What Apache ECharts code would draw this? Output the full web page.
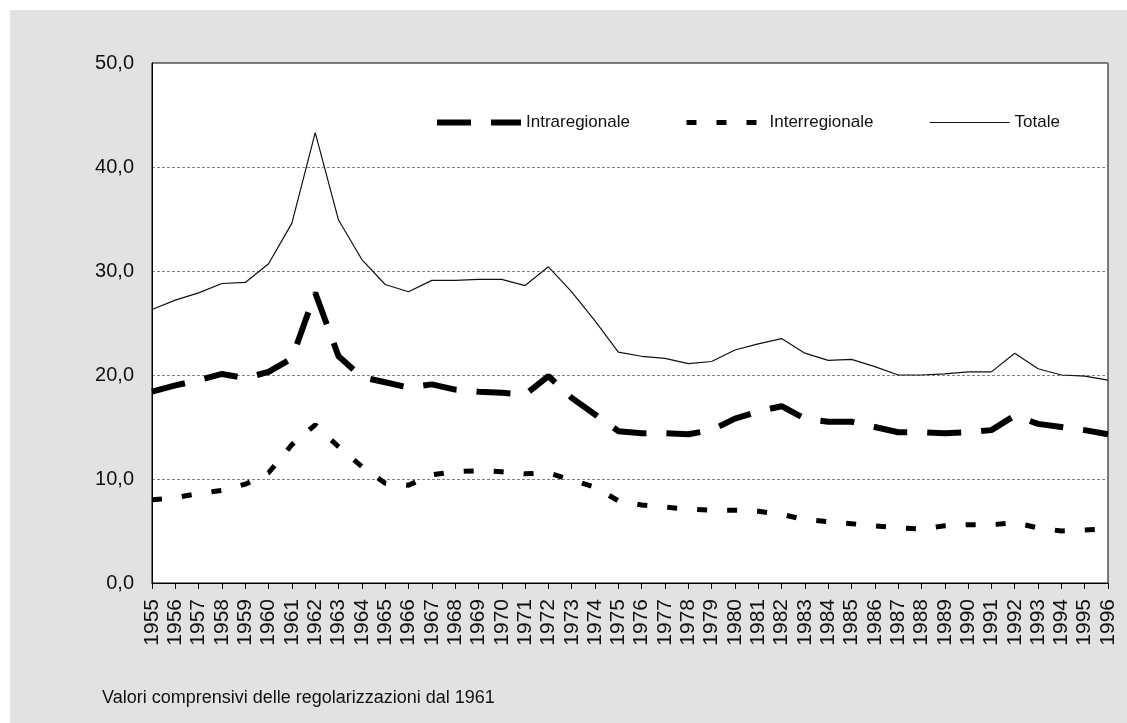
<!DOCTYPE html>
<html>
<head>
<meta charset="utf-8">
<script src="https://cdn.jsdelivr.net/npm/echarts@6/dist/echarts.min.js"></script>
<style>
html,body{margin:0;padding:0;background:#fff;}
#bg{position:absolute;left:10px;top:10px;width:1117px;height:713px;background:#e2e2e2;}
#chart{position:absolute;left:0;top:0;width:1127px;height:723px;}
</style>
</head>
<body>
<div id="bg"></div>
<div id="chart"></div>
<script>
var years = ['1955','1956','1957','1958','1959','1960','1961','1962','1963','1964','1965','1966','1967','1968','1969','1970','1971','1972','1973','1974','1975','1976','1977','1978','1979','1980','1981','1982','1983','1984','1985','1986','1987','1988','1989','1990','1991','1992','1993','1994','1995','1996'];

var intraregionale = [18.4,19.0,19.5,20.1,19.7,20.3,21.6,27.9,21.8,19.8,19.3,18.8,19.1,18.6,18.4,18.3,18.1,19.9,17.8,16.2,14.6,14.4,14.4,14.3,14.7,15.8,16.5,17.0,15.8,15.5,15.5,15.0,14.5,14.5,14.4,14.5,14.7,16.1,15.3,15.0,14.7,14.3];

var interregionale = [8.0,8.2,8.6,8.9,9.5,10.6,13.3,15.2,13.1,11.2,9.6,9.4,10.4,10.7,10.8,10.7,10.5,10.6,9.9,9.2,7.9,7.5,7.3,7.1,7.0,7.0,6.9,6.6,6.1,5.9,5.7,5.5,5.3,5.2,5.5,5.6,5.6,5.8,5.3,5.0,5.1,5.2];

var totale = [26.3,27.2,27.9,28.8,28.9,30.7,34.6,43.3,34.9,31.1,28.7,28.0,29.1,29.1,29.2,29.2,28.6,30.4,28.0,25.2,22.2,21.8,21.6,21.1,21.3,22.4,23.0,23.5,22.1,21.4,21.5,20.8,20.0,20.0,20.1,20.3,20.3,22.1,20.6,20.0,19.9,19.5];

var yTicks = [0,10,20,30,40,50];
var footnote = 'Valori comprensivi delle regolarizzazioni dal 1961';

var FONT = '"Liberation Sans", Arial, Helvetica, sans-serif';
var chart = echarts.init(document.getElementById('chart'), null, {renderer:'canvas'});

function legendFor(name, left, width, lw){
  return {
    data:[name], left:left, top:114, itemWidth:width, itemHeight:14,
    padding:0,
    textStyle:{fontFamily:FONT, fontSize:17, color:'#111'},
    itemStyle:{color:'rgba(0,0,0,0)', borderWidth:0, opacity:0},
    lineStyle:{width:lw},
    selectedMode:false
  };
}

chart.setOption({
  animation:false,
  backgroundColor:'transparent',
  title:{
    text:footnote, left:102, top:689, padding:0,
    textStyle:{fontFamily:FONT, fontSize:18, fontWeight:'normal', color:'#111'}
  },
  legend:[
    legendFor('Intraregionale', 434, 84, 6),
    legendFor('Interregionale', 684, 78, 5),
    legendFor('Totale', 929, 80, 1.2)
  ],
  grid:{
    left:152, right:19, top:63, bottom:140,
    show:true, backgroundColor:'#fff', borderColor:'#000', borderWidth:1
  },
  xAxis:{
    type:'category', data:years, boundaryGap:false,
    axisLine:{lineStyle:{color:'#000', width:1}},
    axisTick:{show:true, interval:0, length:6, inside:false, lineStyle:{color:'#000'}},
    axisLabel:{interval:0, rotate:90, margin:16, fontFamily:FONT, fontSize:21, color:'#111'},
    splitLine:{show:false}
  },
  yAxis:{
    type:'value', min:0, max:50, interval:10,
    axisLine:{show:true, lineStyle:{color:'#000', width:1}},
    axisTick:{show:false},
    axisLabel:{margin:18, fontFamily:FONT, fontSize:20, color:'#111',
      formatter:function(v){return v.toFixed(1).replace('.', ',');}},
    splitLine:{show:true, lineStyle:{color:'#808080', width:1, type:[3,2]}}
  },
  series:[
    {name:'Intraregionale', type:'line', data:intraregionale, symbol:'none', silent:true,
      lineStyle:{color:'#000', width:6, type:[34,20], cap:'butt'}},
    {name:'Interregionale', type:'line', data:interregionale, symbol:'none', silent:true,
      lineStyle:{color:'#000', width:5, type:[10,20], cap:'butt'}},
    {name:'Totale', type:'line', data:totale, symbol:'none', silent:true,
      lineStyle:{color:'#111', width:1.2}}
  ]
});
</script>
</body>
</html>
